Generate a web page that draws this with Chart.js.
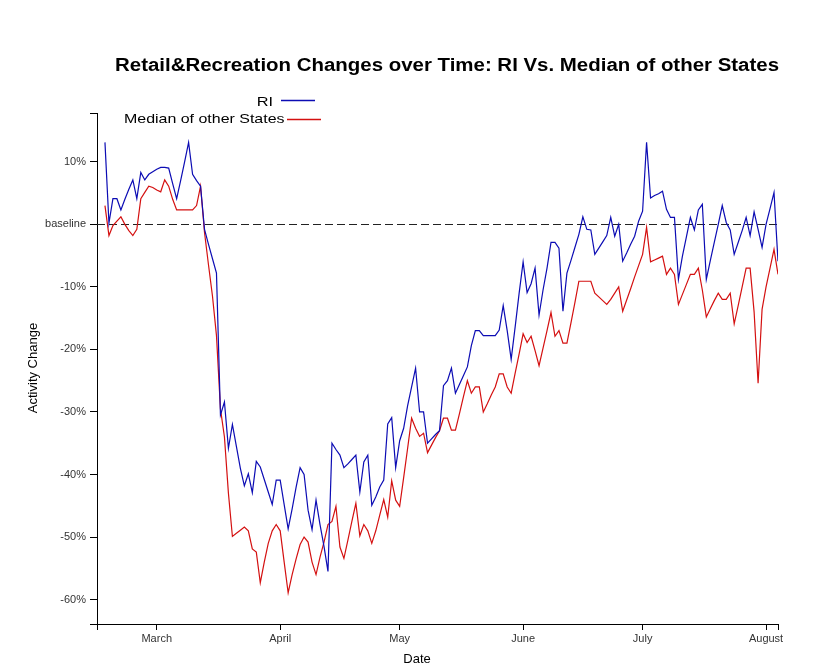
<!DOCTYPE html>
<html><head><meta charset="utf-8">
<script src="https://cdn.jsdelivr.net/npm/chart.js@4/dist/chart.umd.min.js"></script>
<style>html,body{margin:0;padding:0;background:#fff;}#wrap{width:829px;height:668px;position:relative;}</style>
</head><body><div id="wrap"><canvas id="c" width="829" height="668"></canvas></div>
<script>
// ---- data (daily, first day = 2020-02-17) ----
const startDate = '2020-02-17';
const seriesNames = ['RI', 'Median of other States'];
const riValues = [
 13.1,0.2,4.1,4.1,2.3,4.0,5.6,7.1,4.1,8.3,
 7.1,8.0,8.4,8.8,9.1,9.1,9.0,6.5,4.1,7.0,
 10.0,13.1,8.0,7.0,6.1,-0.8,-3.2,-5.5,-7.8,-30.5,
 -28.4,-35.8,-32.0,-35.5,-39.0,-41.8,-39.9,-42.9,-37.9,-38.8,
 -40.8,-42.8,-44.8,-40.9,-40.9,-44.8,-48.7,-45.5,-42.0,-38.9,
 -40.0,-45.7,-48.8,-44.1,-48.0,-51.5,-55.5,-35.0,-36.0,-36.9,
 -38.9,-38.3,-37.6,-36.9,-42.8,-38.0,-36.9,-44.9,-43.6,-42.0,
 -40.9,-31.9,-30.9,-38.9,-34.6,-32.6,-29.0,-26.0,-23.0,-30.0,
 -30.0,-35.0,-34.3,-33.6,-33.0,-25.8,-25.0,-23.0,-27.0,-25.6,
 -24.2,-22.8,-19.4,-17.0,-17.0,-17.8,-17.8,-17.8,-17.8,-16.9,
 -13.0,-17.0,-21.6,-16.4,-11.0,-6.0,-10.9,-9.5,-7.0,-14.5,
 -10.5,-7.0,-2.9,-2.9,-3.8,-13.9,-7.8,-5.8,-3.7,-1.6,
 1.2,-0.8,-0.9,-4.8,-3.8,-2.8,-1.8,1.1,-1.9,0.0,
 -5.9,-4.6,-3.2,-1.9,0.5,2.1,13.1,4.2,4.6,4.9,
 5.3,2.4,1.1,1.1,-8.8,-5.1,-2.0,1.1,-0.9,2.3,
 3.2,-8.8,-5.8,-2.9,0.0,3.0,0.3,-0.9,-4.8,-2.9,
 -1.0,1.1,-1.8,2.0,-0.8,-3.7,0.0,2.5,5.1,-5.9
];
const medianValues = [
 3.0,-1.8,-0.2,0.5,1.2,0.0,-1.0,-1.8,-0.8,4.1,
 5.1,6.1,5.9,5.5,5.2,7.1,6.1,4.0,2.3,2.3,
 2.3,2.3,2.3,3.0,6.1,-1.3,-6.5,-11.5,-17.8,-29.5,
 -34.0,-43.0,-49.9,-49.4,-48.9,-48.4,-49.0,-51.9,-52.4,-57.3,
 -54.0,-51.0,-49.0,-48.0,-49.0,-54.0,-58.9,-56.0,-53.5,-51.2,
 -50.0,-50.8,-54.0,-56.0,-53.2,-50.8,-48.0,-47.5,-45.1,-51.6,
 -53.4,-50.5,-47.5,-44.6,-49.8,-48.0,-49.0,-51.0,-49.0,-46.5,
 -44.0,-46.8,-41.0,-44.1,-45.1,-40.5,-35.8,-31.0,-32.6,-33.9,
 -33.4,-36.5,-35.3,-34.1,-33.0,-31.0,-31.0,-32.9,-32.9,-30.3,
 -27.6,-25.0,-27.0,-26.0,-26.0,-30.0,-28.7,-27.3,-26.0,-23.9,
 -23.9,-26.0,-27.0,-23.8,-20.7,-17.5,-18.9,-17.9,-20.2,-22.6,
 -19.8,-17.0,-14.1,-17.9,-17.0,-19.0,-19.0,-15.8,-12.5,-9.1,
 -9.1,-9.1,-9.1,-11.0,-11.6,-12.2,-12.8,-12.0,-11.0,-10.0,
 -13.9,-12.1,-10.3,-8.4,-6.6,-4.8,-0.5,-6.0,-5.7,-5.4,
 -5.1,-8.0,-7.0,-8.0,-12.8,-11.2,-9.6,-8.0,-8.0,-7.0,
 -10.5,-14.8,-13.5,-12.2,-11.0,-12.0,-12.0,-11.0,-15.9,-13.0,
 -10.0,-7.0,-7.0,-14.0,-25.4,-13.6,-10.0,-7.0,-4.0,-8.0
];
const monthLabels = ['March', 'April', 'May', 'June', 'July', 'August'];
const monthTickDays = [13, 44, 74, 105, 135, 166]; // day index of the 1st of each month
const yTickValues = [-60, -50, -40, -30, -20, -10, 0, 10];
const yTickLabels = ['-60%', '-50%', '-40%', '-30%', '-20%', '-10%', 'baseline', '10%'];
const titleText = 'Retail&Recreation Changes over Time: RI Vs. Median of other States';
const xTitleText = 'Date';
const yTitleText = 'Activity Change';

// ---- layout / style ----
const FONT = '"Liberation Sans", Arial, Helvetica, sans-serif';
const X_MIN = -2, X_MAX = 169;
const Y_MIN = -63.9, Y_MAX = 17.8;
const BLUE = '#0c0cb4', RED = '#d41010';

const toXY = arr => arr.map((v, i) => ({ x: i, y: v }));

function drawScaledText(ctx, text, x, y, font, align, targetW, color) {
  ctx.save();
  ctx.font = font;
  ctx.fillStyle = color || '#000';
  ctx.textBaseline = 'alphabetic';
  const w = ctx.measureText(text).width;
  const s = targetW ? targetW / w : 1;
  ctx.translate(x, y);
  ctx.scale(s, 1);
  ctx.textAlign = align;
  ctx.fillText(text, 0, 0);
  ctx.restore();
}

const decor = {
  id: 'decor',
  beforeDatasetsDraw(chart) {
    const { ctx, chartArea, scales } = chart;
    const y0 = scales.y.getPixelForValue(0);
    ctx.save();
    ctx.strokeStyle = '#222';
    ctx.lineWidth = 1;
    ctx.setLineDash([8, 4]);
    ctx.beginPath();
    ctx.moveTo(chartArea.left, Math.round(y0) + 0.5);
    ctx.lineTo(chartArea.right, Math.round(y0) + 0.5);
    ctx.stroke();
    ctx.restore();
  },
  afterDraw(chart) {
    const { ctx } = chart;
    // title
    drawScaledText(ctx, titleText, 447, 71, 'bold 18px ' + FONT, 'center', 664, '#000');
    // legend
    const ds = chart.data.datasets;
    drawScaledText(ctx, ds[0].label, 273, 105.7, '13px ' + FONT, 'right', 16.3, '#000');
    drawScaledText(ctx, ds[1].label, 284.5, 122.7, '13px ' + FONT, 'right', 160.5, '#000');
    ctx.save();
    ctx.setLineDash([]);
    ctx.lineWidth = 1.3;
    ctx.strokeStyle = BLUE;
    ctx.beginPath(); ctx.moveTo(281, 100.5); ctx.lineTo(315, 100.5); ctx.stroke();
    ctx.strokeStyle = RED;
    ctx.beginPath(); ctx.moveTo(287, 119.5); ctx.lineTo(321, 119.5); ctx.stroke();
    ctx.restore();
    // axis titles
    ctx.save();
    ctx.fillStyle = '#000';
    ctx.font = '13px ' + FONT;
    ctx.textAlign = 'center';
    ctx.textBaseline = 'middle';
    ctx.fillText(xTitleText, 417, 659);
    ctx.translate(33, 368);
    ctx.rotate(-Math.PI / 2);
    ctx.fillText(yTitleText, 0, 0);
    ctx.restore();
  }
};

new Chart(document.getElementById('c'), {
  type: 'line',
  data: {
    datasets: [
      { label: seriesNames[0], data: toXY(riValues), borderColor: BLUE, borderWidth: 1.2, pointRadius: 0, tension: 0, fill: false },
      { label: seriesNames[1], data: toXY(medianValues), borderColor: RED, borderWidth: 1.2, pointRadius: 0, tension: 0, fill: false }
    ]
  },
  options: {
    responsive: false,
    animation: false,
    devicePixelRatio: 1,
    layout: { padding: { left: 0, top: 113, right: 51, bottom: 14 } },
    plugins: { legend: { display: false }, title: { display: false }, tooltip: { enabled: false } },
    scales: {
      x: {
        type: 'linear', min: X_MIN, max: X_MAX,
        afterFit(s) { s.height = 30; },
        afterBuildTicks(s) { s.ticks = [X_MIN, ...monthTickDays, X_MAX].map(v => ({ value: v })); },
        ticks: {
          autoSkip: false, maxRotation: 0, padding: 2, color: '#333',
          font: { family: FONT, size: 11 },
          callback(v) { const k = monthTickDays.indexOf(v); return k >= 0 ? monthLabels[k] : ''; }
        },
        grid: { display: true, drawOnChartArea: false, drawTicks: true, tickLength: 6, color: '#000', lineWidth: 1 },
        border: { display: true, color: '#000', width: 1 }
      },
      y: {
        type: 'linear', min: Y_MIN, max: Y_MAX,
        afterFit(s) { s.width = 97; },
        afterBuildTicks(s) { s.ticks = [Y_MIN, ...yTickValues, Y_MAX].map(v => ({ value: v })); },
        ticks: {
          autoSkip: false, padding: 4, color: '#333',
          font: { family: FONT, size: 11 },
          callback(v) { const k = yTickValues.indexOf(v); return k >= 0 ? yTickLabels[k] : ''; }
        },
        grid: { display: true, drawOnChartArea: false, drawTicks: true, tickLength: 7, color: '#000', lineWidth: 1 },
        border: { display: true, color: '#000', width: 1 }
      }
    }
  },
  plugins: [decor]
});
</script>
</body></html>
